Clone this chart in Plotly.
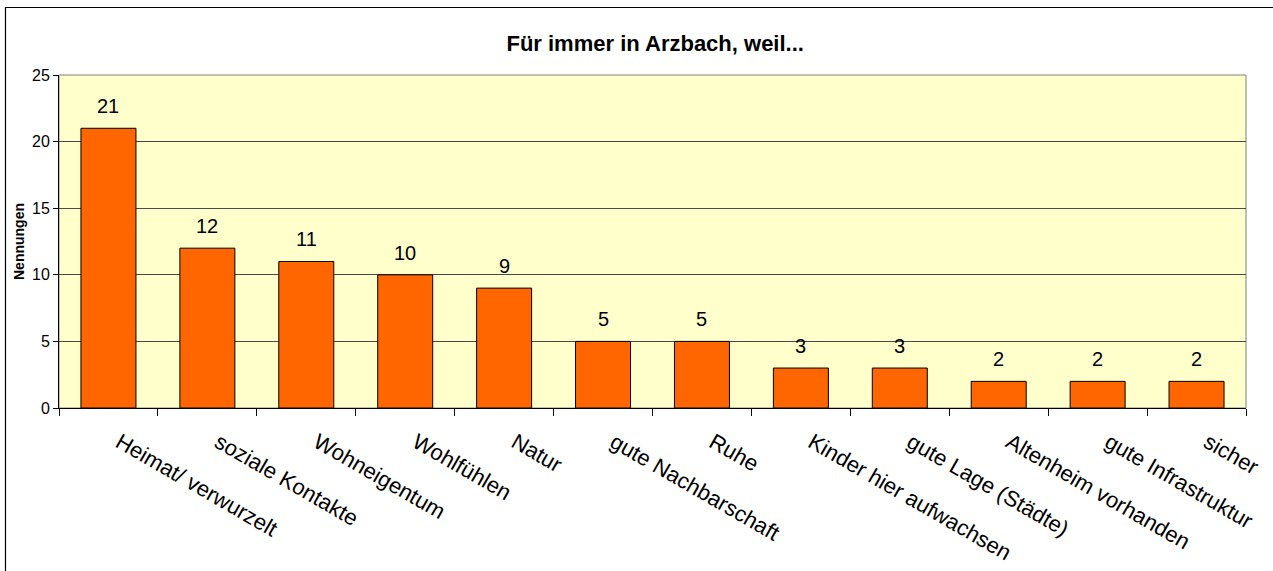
import plotly.graph_objects as go

categories = ["Heimat/ verwurzelt", "soziale Kontakte", "Wohneigentum", "Wohlfühlen",
              "Natur", "gute Nachbarschaft", "Ruhe", "Kinder hier aufwachsen",
              "gute Lage (Städte)", "Altenheim vorhanden", "gute Infrastruktur", "sicher"]
values = [21, 12, 11, 10, 9, 5, 5, 3, 3, 2, 2, 2]
y_ticks = [0, 5, 10, 15, 20, 25]

title_text = "Für immer in Arzbach, weil..."
y_title = "Nennungen"

FONT = "Liberation Sans, Arial, sans-serif"

W, H = 1273, 571
L, T = 59, 75
R = W - 1245.6
B = H - 408
pw = W - L - R
ph = H - T - B

fig = go.Figure()
fig.add_trace(go.Bar(
    x=categories, y=values,
    marker=dict(color="#FF6600", line=dict(color="#000000", width=1)),
    width=0.556,
    hoverinfo="x+y",
))

for c, v in zip(categories, values):
    fig.add_annotation(x=c, y=v, text=str(v), showarrow=False,
                       yanchor="bottom", yshift=9,
                       font=dict(family=FONT, size=20, color="#000000"))

def px_to_paper_x(px):
    return (px - L) / pw

def py_to_paper_y(py):
    return (H - B - py) / ph

# outer chart frame
fig.add_shape(type="rect", xref="paper", yref="paper",
              x0=px_to_paper_x(5.5), x1=px_to_paper_x(1300),
              y0=py_to_paper_y(620), y1=py_to_paper_y(7.5),
              line=dict(color="#000000", width=1.2), fillcolor="rgba(0,0,0,0)")
# plot area border (grey top/right)
fig.add_shape(type="rect", xref="paper", yref="paper", x0=0, x1=1, y0=0, y1=1,
              line=dict(color="#808080", width=1), fillcolor="rgba(0,0,0,0)", layer="below")

fig.update_layout(
    width=W, height=H,
    margin=dict(l=L, r=R, t=T, b=B, autoexpand=False),
    paper_bgcolor="#FFFFFF",
    plot_bgcolor="#FFFFCC",
    showlegend=False,
    bargap=0.444,
    title=dict(text="<b>" + title_text + "</b>", x=px_to_paper_x(655), xref="paper",
               xanchor="center",
               y=1 - 43 / H, yanchor="middle", yref="container",
               font=dict(family=FONT, size=22, color="#000000")),
    font=dict(family=FONT, color="#000000"),
    xaxis=dict(
        type="category",
        tickangle=30,
        tickfont=dict(family=FONT, size=22, color="#000000"),
        ticklabelstandoff=12,
        ticklabelshift=11,
        showline=True, linecolor="#000000", linewidth=1,
        ticks="outside", ticklen=7, tickcolor="#000000", tickson="boundaries",
        showgrid=False,
        fixedrange=True,
    ),
    yaxis=dict(
        range=[0, 25],
        tickvals=y_ticks,
        tickfont=dict(family=FONT, size=16, color="#000000"),
        showline=True, linecolor="#000000", linewidth=1,
        ticks="outside", ticklen=5, tickcolor="#000000",
        showgrid=True, gridcolor="#4a4a4a", gridwidth=1,
        zeroline=False,
        title=dict(text="<b>" + y_title + "</b>", standoff=4,
                   font=dict(family=FONT, size=14, color="#000000")),
        fixedrange=True,
    ),
)

fig.write_html("out.html", config={"displayModeBar": False},
               post_script="document.body.style.margin='0';")
